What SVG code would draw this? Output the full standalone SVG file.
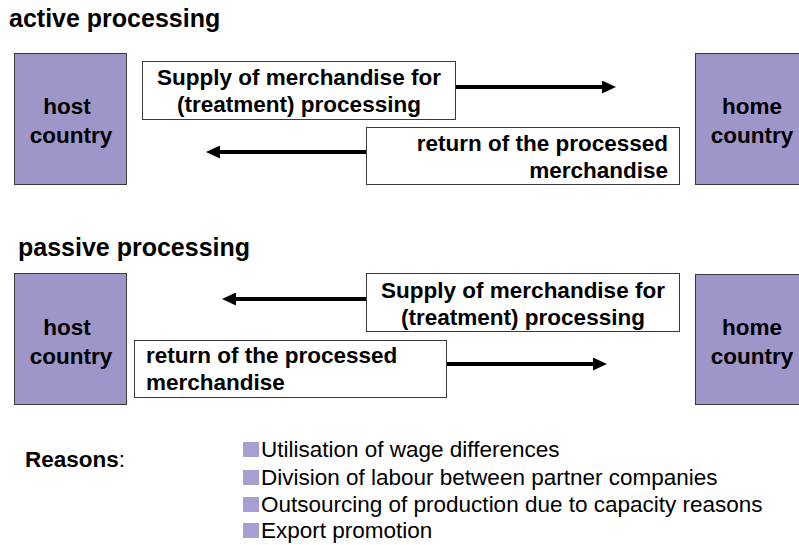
<svg xmlns="http://www.w3.org/2000/svg" width="799" height="545" viewBox="0 0 799 545">
  <style>
    text { font-family: "Liberation Sans", Arial, Helvetica, sans-serif; fill: #000; }
    .title { font-size: 25px; font-weight: bold; }
    .country { fill: #9e95c8; stroke: #3a3a3a; stroke-width: 1; }
    .ctext { font-size: 22.5px; font-weight: bold; text-anchor: middle; }
    .label { fill: #fff; stroke: #3a3a3a; stroke-width: 1; }
    .ltext { font-size: 22.5px; font-weight: bold; }
    .flow { stroke: #000; stroke-width: 4; fill: none; }
    .bullet { fill: #a79ed2; }
    .item { font-size: 22.5px; }
  </style>
  <defs>
    <marker id="head" viewBox="0 0 14 13" refX="0" refY="6.5" markerWidth="14" markerHeight="13" markerUnits="userSpaceOnUse" orient="auto">
      <path d="M0,0 L14,6.5 L0,13 Z" fill="#000"/>
    </marker>
  </defs>
  <rect width="799" height="545" fill="#fff"/>

  <!-- section titles -->
  <text class="title" x="9" y="27">active processing</text>
  <text class="title" x="18" y="256">passive processing</text>

  <!-- connectors -->
  <g id="connectors">
    <line class="flow" x1="455" y1="87" x2="602" y2="87" marker-end="url(#head)"/>
    <line class="flow" x1="367" y1="152" x2="220" y2="152" marker-end="url(#head)"/>
    <line class="flow" x1="367" y1="299" x2="236" y2="299" marker-end="url(#head)"/>
    <line class="flow" x1="446" y1="364" x2="593" y2="364" marker-end="url(#head)"/>
  </g>

  <!-- active processing -->
  <g id="host-active">
    <rect class="country" x="14.5" y="53.5" width="112" height="131"/>
    <text class="ctext" x="67" y="114">host</text>
    <text class="ctext" x="71" y="143">country</text>
  </g>
  <g id="supply-active">
    <rect class="label" x="142.5" y="61.5" width="313" height="58"/>
    <text class="ltext" x="299" y="85" text-anchor="middle">Supply of merchandise for</text>
    <text class="ltext" x="299" y="112" text-anchor="middle">(treatment) processing</text>
  </g>
  <g id="return-active">
    <rect class="label" x="366.5" y="127.5" width="313" height="57"/>
    <text class="ltext" x="668" y="151" text-anchor="end">return of the processed</text>
    <text class="ltext" x="668" y="178" text-anchor="end">merchandise</text>
  </g>
  <g id="home-active">
    <rect class="country" x="695.5" y="53.5" width="110" height="131"/>
    <text class="ctext" x="752" y="114">home</text>
    <text class="ctext" x="752" y="143">country</text>
  </g>

  <!-- passive processing -->
  <g id="host-passive">
    <rect class="country" x="14.5" y="273.5" width="112" height="131"/>
    <text class="ctext" x="67" y="335">host</text>
    <text class="ctext" x="71" y="364">country</text>
  </g>
  <g id="supply-passive">
    <rect class="label" x="366.5" y="273.5" width="313" height="58"/>
    <text class="ltext" x="523" y="298" text-anchor="middle">Supply of merchandise for</text>
    <text class="ltext" x="523" y="325" text-anchor="middle">(treatment) processing</text>
  </g>
  <g id="return-passive">
    <rect class="label" x="134.5" y="340.5" width="312" height="57"/>
    <text class="ltext" x="146" y="363">return of the processed</text>
    <text class="ltext" x="146" y="390">merchandise</text>
  </g>
  <g id="home-passive">
    <rect class="country" x="695.5" y="274.5" width="110" height="130"/>
    <text class="ctext" x="752" y="335">home</text>
    <text class="ctext" x="752" y="364">country</text>
  </g>

  <!-- reasons list -->
  <g id="reasons">
    <text class="item" x="25" y="467"><tspan font-weight="bold">Reasons</tspan>:</text>
    <rect class="bullet" x="243" y="442" width="16" height="15"/>
    <text class="item" x="261" y="457">Utilisation of wage differences</text>
    <rect class="bullet" x="243" y="470" width="16" height="15"/>
    <text class="item" x="261" y="485">Division of labour between partner companies</text>
    <rect class="bullet" x="243" y="497" width="16" height="15"/>
    <text class="item" x="261" y="512">Outsourcing of production due to capacity reasons</text>
    <rect class="bullet" x="243" y="523" width="16" height="15"/>
    <text class="item" x="261" y="538">Export promotion</text>
  </g>
</svg>
